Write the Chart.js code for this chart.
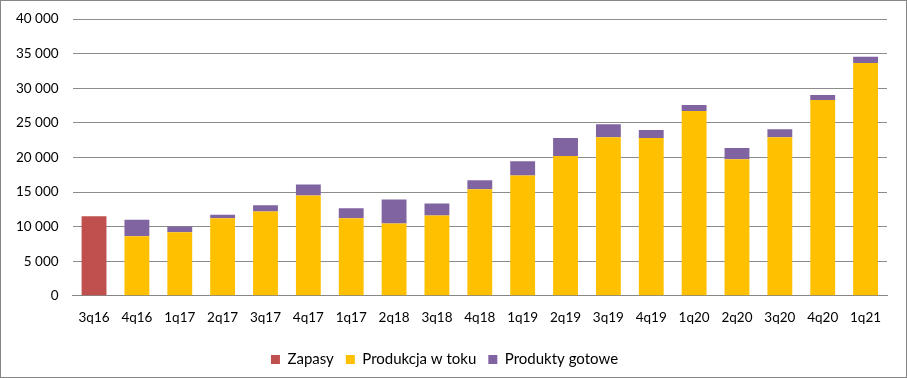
<!DOCTYPE html>
<html><head><meta charset="utf-8">
<script src="https://cdn.jsdelivr.net/npm/chart.js@4"></script>
<style>
html,body{margin:0;padding:0;background:#fff;}
#wrap{position:absolute;left:0;top:0;width:905px;height:376px;border:1px solid #868686;}
canvas{display:block;}
</style></head><body>
<div id="wrap"><canvas id="c" width="905" height="376"></canvas></div>
<script>
const categories = ["3q16","4q16","1q17","2q17","3q17","4q17","1q17","2q18","3q18","4q18","1q19","2q19","3q19","4q19","1q20","2q20","3q20","4q20","1q21"];
const zapasy = [11500,null,null,null,null,null,null,null,null,null,null,null,null,null,null,null,null,null,null];
const produkcjaWToku = [null,8600,9200,11200,12200,14500,11200,10450,11600,15400,17400,20200,22900,22800,26700,19750,22900,28300,33650];
const produktyGotowe = [null,2400,800,530,870,1600,1450,3480,1740,1300,2030,2600,1900,1150,870,1600,1180,720,880];
const yTicks = [0,5000,10000,15000,20000,25000,30000,35000,40000];

const fmt = v => String(v).replace(/\B(?=(\d{3})+(?!\d))/g, ' ');
const FONT = {family: 'Lato, "Open Sans", sans-serif', size: 13.5};
const LFONT = {family: 'Lato, "Open Sans", sans-serif', size: 15};

new Chart(document.getElementById('c'), {
  type: 'bar',
  data: {
    labels: categories,
    datasets: [
      {label: 'Zapasy', data: zapasy, backgroundColor: '#C0504D'},
      {label: 'Produkcja w toku', data: produkcjaWToku, backgroundColor: '#FFC000'},
      {label: 'Produkty gotowe', data: produktyGotowe, backgroundColor: '#8064A2'}
    ]
  },
  options: {
    responsive: false,
    animation: false,
    devicePixelRatio: 1,
    layout: {padding: {top: 18, right: 19, left: 1, bottom: 0}},
    datasets: {bar: {categoryPercentage: 1, barPercentage: 0.58}},
    plugins: {
      legend: {
        position: 'bottom',
        labels: {boxWidth: 9, boxHeight: 9, color: '#000', font: LFONT, padding: 12}
      },
      tooltip: {enabled: false}
    },
    scales: {
      x: {
        stacked: true,
        grid: {display: false, drawTicks: false},
        border: {display: true, color: '#868686', width: 1},
        ticks: {color: '#000', font: FONT, padding: 14, maxRotation: 0}
      },
      y: {
        stacked: true,
        min: 0, max: 40000,
        afterBuildTicks: s => { s.ticks = yTicks.map(v => ({value: v})); },
        afterFit: s => { s.paddingTop = 0; },
        grid: {color: '#8c8c8c', drawTicks: false, lineWidth: 1},
        border: {display: false},
        ticks: {color: '#000', font: FONT, padding: 14, callback: v => fmt(v)}
      }
    }
  }
});
</script>
</body></html>
